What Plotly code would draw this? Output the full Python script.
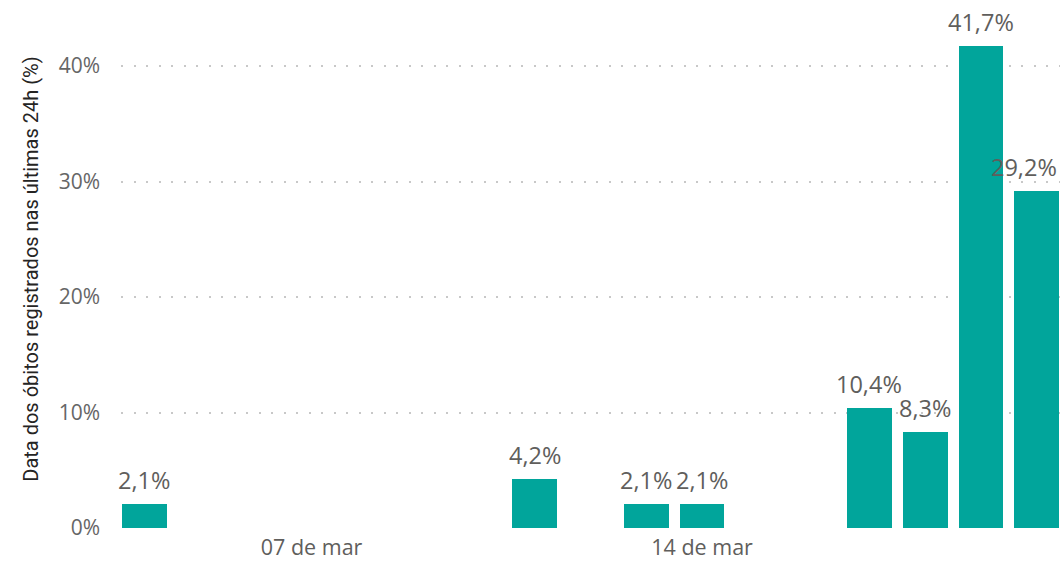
import plotly.graph_objects as go

dates = ["2020-03-04", "2020-03-11", "2020-03-13", "2020-03-14",
         "2020-03-17", "2020-03-18", "2020-03-19", "2020-03-20"]
values = [2.1, 4.2, 2.1, 2.1, 10.4, 8.3, 41.7, 29.2]
labels = ["2,1%", "4,2%", "2,1%", "2,1%", "10,4%", "8,3%", "41,7%", "29,2%"]
x_tick_vals = ["2020-03-07", "2020-03-14"]
x_tick_text = ["07 de mar", "14 de mar"]
y_tick_vals = [0, 10, 20, 30, 40]
y_tick_text = ["0%", "10%", "20%", "30%", "40%"]

fig = go.Figure(go.Bar(
    x=dates, y=values,
    marker=dict(color="#01A59B", line=dict(width=0)),
    width=0.8 * 86400000,
    hoverinfo="skip",
))

# data labels above bars; the last one is right-aligned to stay inside the chart
for i, (d, v, t) in enumerate(zip(dates, values, labels)):
    last = i == len(dates) - 1
    fig.add_annotation(
        x=d, y=v, text=t, showarrow=False,
        xanchor="right" if last else "center", yanchor="bottom",
        xshift=22 if last else 0, yshift=6,
        font=dict(family="Open Sans", size=23.5, color="#605E5C"),
    )

fig.update_layout(
    width=1063, height=562,
    margin=dict(l=121, r=3, t=10, b=34),
    plot_bgcolor="white", paper_bgcolor="white",
    showlegend=False,
    bargap=0,
)
fig.update_xaxes(
    type="date",
    range=["2020-03-03 14:00", "2020-03-20 10:00"],
    tickvals=x_tick_vals, ticktext=x_tick_text,
    showgrid=False, showline=False, zeroline=False, ticks="",
    ticklabelstandoff=4, automargin=False,
    tickfont=dict(family="Open Sans", size=21.5, color="#605E5C"),
)
fig.update_yaxes(
    range=[0, 44.85],
    tickvals=y_tick_vals, ticktext=y_tick_text,
    showgrid=True, gridcolor="#c8c8c8", gridwidth=1.5, griddash="2px,10.5px",
    zeroline=False, showline=False, ticks="",
    ticklabelstandoff=20, automargin=False,
    tickfont=dict(family="Open Sans", size=21, color="#666666"),
    title=dict(text="Data dos óbitos registrados nas últimas 24h (%)",
               font=dict(family="Roboto", size=20, color="#252423"),
               standoff=14),
)

fig.write_html("out.html", config={"displayModeBar": False},
               post_script="document.body.style.margin='0px';")
